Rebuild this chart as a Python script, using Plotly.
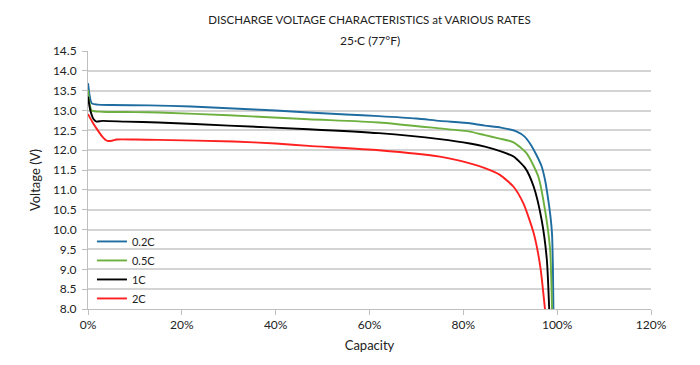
import plotly.graph_objects as go

# Capacity (fraction) and voltage for each discharge rate
cap_02c = [0, 0.008, 0.02, 0.05, 0.13, 0.22, 0.31, 0.40, 0.47, 0.55, 0.62, 0.70, 0.75, 0.814, 0.846, 0.88,
           0.914, 0.93, 0.942, 0.955, 0.967, 0.975, 0.981, 0.986, 0.989, 0.991, 0.992]
v_02c = [13.69, 13.18, 13.15, 13.14, 13.13, 13.10, 13.05, 13.00, 12.95, 12.90, 12.86, 12.80, 12.74, 12.68, 12.62, 12.57,
         12.47, 12.35, 12.17, 11.90, 11.59, 11.20, 10.75, 10.30, 9.90, 9.00, 8.00]

cap_05c = [0, 0.008, 0.03, 0.10, 0.15, 0.30, 0.47, 0.62, 0.75, 0.814, 0.846, 0.875, 0.907, 0.935, 0.96, 0.974,
           0.985, 0.989]
v_05c = [13.52, 13.00, 12.97, 12.96, 12.95, 12.88, 12.78, 12.70, 12.55, 12.47, 12.38, 12.30, 12.20, 11.92, 11.33, 10.50,
         9.49, 8.00]

cap_1c = [0, 0.005, 0.012, 0.018, 0.03, 0.08, 0.15, 0.30, 0.47, 0.62, 0.75, 0.814, 0.846, 0.88, 0.907, 0.932,
          0.95, 0.967, 0.978, 0.983]
v_1c = [13.35, 13.00, 12.78, 12.72, 12.74, 12.72, 12.70, 12.62, 12.53, 12.43, 12.28, 12.17, 12.09, 11.97, 11.84, 11.55,
        11.08, 10.24, 9.24, 8.00]

cap_2c = [0, 0.01, 0.018, 0.03, 0.04, 0.051, 0.061, 0.10, 0.15, 0.31, 0.40, 0.47, 0.62, 0.75, 0.814, 0.846, 0.878,
          0.907, 0.928, 0.95, 0.964, 0.974]
v_2c = [12.91, 12.70, 12.55, 12.35, 12.24, 12.24, 12.27, 12.27, 12.26, 12.22, 12.17, 12.11, 12.00, 11.84, 11.67, 11.55,
        11.38, 11.08, 10.66, 9.91, 9.07, 8.00]

series = [
    ("0.2C", cap_02c, v_02c, "#1F6DA0"),
    ("0.5C", cap_05c, v_05c, "#6DB040"),
    ("1C", cap_1c, v_1c, "#000000"),
    ("2C", cap_2c, v_2c, "#FF2020"),
]

x_ticks = [0, 0.2, 0.4, 0.6, 0.8, 1.0, 1.2]
x_tick_labels = ["0%", "20%", "40%", "60%", "80%", "100%", "120%"]

title_line1 = "DISCHARGE VOLTAGE CHARACTERISTICS at VARIOUS RATES"
title_line2 = "25·C (77°F)"

FONT = "Lato, Roboto, sans-serif"

fig = go.Figure()
for name, x, y, color in series:
    fig.add_trace(go.Scatter(x=x, y=y, name=name, mode="lines",
                             line=dict(color=color, width=1.9, shape="spline", smoothing=0.6)))

fig.update_layout(
    width=700, height=365,
    margin=dict(l=80, r=57, t=43, b=64),
    paper_bgcolor="white", plot_bgcolor="white",
    font=dict(family=FONT, size=12, color="#222222"),
    title=dict(text=title_line1,
               x=0.5, xref="paper", xanchor="center", y=0.967, yanchor="middle",
               font=dict(family=FONT, size=11.5, color="#222222")),
    annotations=[dict(text=title_line2, xref="paper", yref="paper", x=0.5, y=1.0426,
                      xanchor="center", yanchor="middle", showarrow=False,
                      font=dict(family=FONT, size=12, color="#222222"))],
    showlegend=True,
    legend=dict(x=0.007, y=0.318, xanchor="left", yanchor="top", bgcolor="rgba(0,0,0,0)",
                font=dict(family=FONT, size=11), tracegroupgap=0, itemwidth=30),
)

fig.update_xaxes(range=[0, 1.2], tickvals=x_ticks, ticktext=x_tick_labels, automargin=False,
                 showgrid=False, zeroline=False, showline=True, linecolor="#bfbfbf", linewidth=1,
                 ticks="outside", ticklen=5, tickcolor="#bfbfbf",
                 title=dict(text="Capacity", standoff=9, font=dict(family=FONT, size=13)),
                 tickfont=dict(family=FONT, size=12))
fig.update_yaxes(range=[8, 14.5], dtick=0.5, tickformat=".1f", automargin=False,
                 showgrid=True, gridcolor="#d4d4d4", gridwidth=1.5, zeroline=False,
                 showline=True, linecolor="#bfbfbf", linewidth=1,
                 ticks="outside", ticklen=5, tickcolor="#bfbfbf", ticklabelstandoff=3,
                 title=dict(text="Voltage (V)", standoff=9, font=dict(family=FONT, size=13)),
                 tickfont=dict(family=FONT, size=12))

fig.write_html("out.html")
